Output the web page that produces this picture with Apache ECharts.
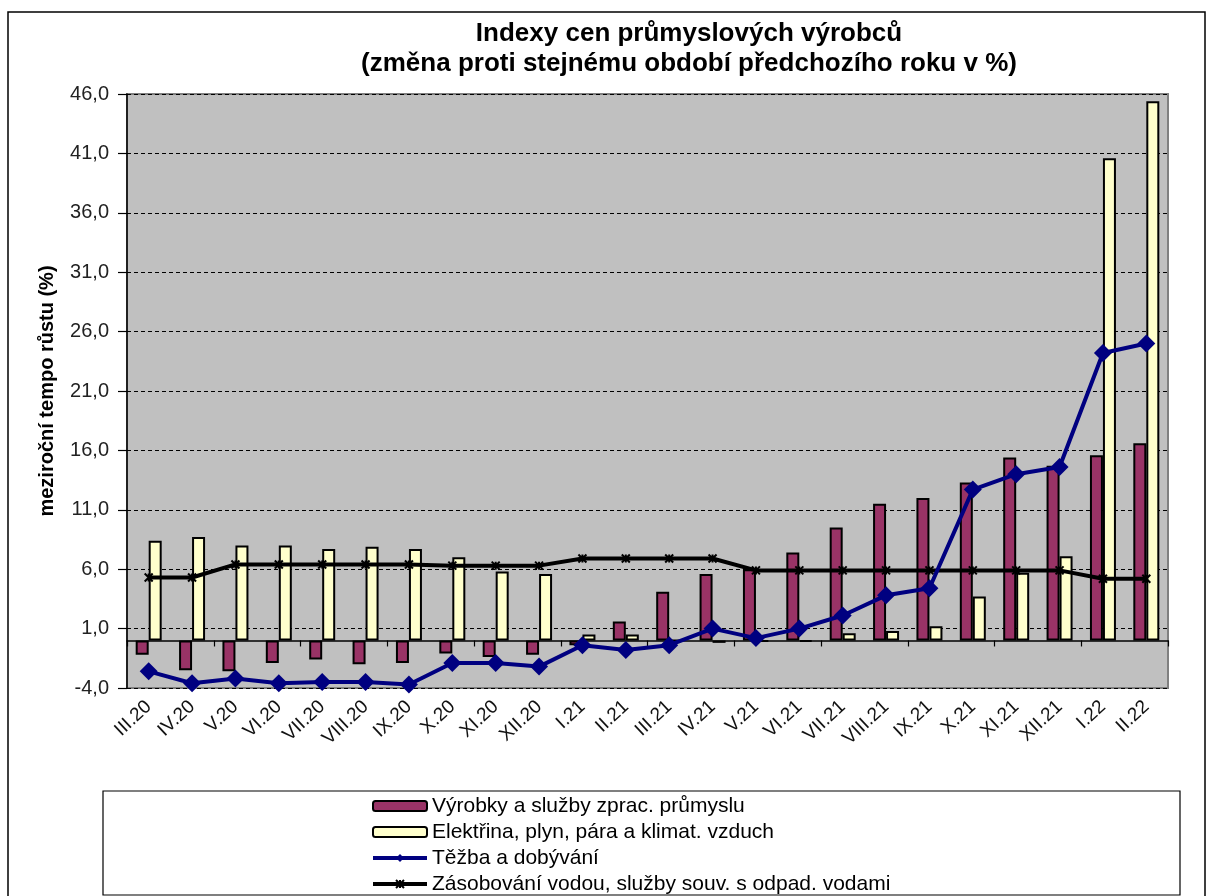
<!DOCTYPE html>
<html>
<head>
<meta charset="utf-8">
<script src="https://cdn.jsdelivr.net/npm/echarts@6/dist/echarts.min.js"></script>
<style>html,body{margin:0;padding:0;background:#fff;}#c{width:1206px;height:896px;}</style>
</head>
<body>
<div id="c"></div>
<script>
const categories = ['III.20','IV.20','V.20','VI.20','VII.20','VIII.20','IX.20','X.20','XI.20','XII.20','I.21','II.21','III.21','IV.21','V.21','VI.21','VII.21','VIII.21','IX.21','X.21','XI.21','XII.21','I.22','II.22'];
const manufacturing = [-1.2,-2.5,-2.6,-1.9,-1.6,-2.0,-1.9,-1.1,-1.4,-1.2,-0.4,1.6,4.1,5.6,6.0,7.4,9.5,11.5,12.0,13.3,15.4,14.7,15.6,16.6];
const energy = [8.4,8.7,8.0,8.0,7.7,7.9,7.7,7.0,5.8,5.6,0.5,0.5,0.0,-0.2,-0.1,-0.1,0.6,0.8,1.2,3.7,5.7,7.1,40.6,45.4];
const mining = [-2.6,-3.6,-3.2,-3.6,-3.5,-3.5,-3.7,-1.9,-1.9,-2.2,-0.4,-0.8,-0.4,1.0,0.2,1.0,2.1,3.8,4.4,12.7,14.0,14.6,24.2,25.0];
const water = [5.3,5.3,6.4,6.4,6.4,6.4,6.4,6.3,6.3,6.3,6.9,6.9,6.9,6.9,5.9,5.9,5.9,5.9,5.9,5.9,5.9,5.9,5.2,5.2];
const seriesNames = ['Výrobky a služby zprac. průmyslu','Elektřina, plyn, pára a klimat. vzduch','Těžba a dobývání','Zásobování vodou, služby souv. s odpad. vodami'];
const titleLines = ['Indexy cen průmyslových výrobců','(změna proti stejnému období předchozího roku v %)'];
const yAxisName = 'meziroční tempo růstu (%)';

const FONT = 'Liberation Sans, Arial, sans-serif';
const chart = echarts.init(document.getElementById('c'), null, {renderer:'canvas'});
chart.setOption({
  animation: false,
  backgroundColor: '#ffffff',
  textStyle: {fontFamily: FONT},
  graphic: [
    {type:'rect', shape:{x:8, y:12, width:1197, height:900}, style:{fill:'none', stroke:'#000', lineWidth:1.5}, silent:true, z:0},
    {type:'rect', shape:{x:103, y:791, width:1077, height:104}, style:{fill:'#fff', stroke:'#000', lineWidth:1.2}, silent:true, z:0},
    {type:'text', x:689, y:34, style:{text:titleLines[0], font:'bold 26px '+FONT, fill:'#000', align:'center', verticalAlign:'middle'}, z:10},
    {type:'text', x:689, y:64, style:{text:titleLines[1], font:'bold 26px '+FONT, fill:'#000', align:'center', verticalAlign:'middle'}, z:10}
  ],
  legend: {
    orient:'vertical', left:371, top:795.5, padding:0, itemWidth:54, itemHeight:10, itemGap:5,
    textStyle:{fontSize:21, color:'#000', fontFamily:FONT},
    data: [
      {name:seriesNames[0]},
      {name:seriesNames[1]},
      {name:seriesNames[2], lineStyle:{width:4}},
      {name:seriesNames[3], lineStyle:{width:4}}
    ], z:20
  },
  grid: {left:127, right:38, top:94, bottom:208, show:true, backgroundColor:'#c0c0c0', borderColor:'#808080', borderWidth:2},
  xAxis: [
    {type:'category', data:categories, position:'bottom',
     axisLine:{show:true, onZero:true, lineStyle:{color:'#000', width:1.5}},
     axisTick:{show:true, length:6, lineStyle:{color:'#000', width:1.2}},
     axisLabel:{show:false}, splitLine:{show:false}},
    {type:'category', data:categories, position:'bottom',
     axisLine:{show:false, onZero:false}, axisTick:{show:false},
     axisLabel:{show:true, rotate:43, fontSize:19, color:'#111', margin:16, interval:0, fontFamily:FONT},
     splitLine:{show:false}}
  ],
  yAxis: {
    type:'value', min:-4, max:46, interval:5,
    name:yAxisName, nameLocation:'middle', nameGap:70,
    nameTextStyle:{fontSize:20, fontWeight:'bold', color:'#000', fontFamily:FONT},
    axisLine:{show:true, lineStyle:{color:'#000', width:1.5}},
    axisTick:{show:true, length:9, lineStyle:{color:'#000', width:1.2}},
    axisLabel:{fontSize:20, color:'#222', margin:18, fontFamily:FONT, formatter:v=>v.toFixed(1).replace('.',',')},
    splitLine:{show:true, lineStyle:{color:'#000', width:1, type:[4,3]}}
  },
  series: [
    {name:seriesNames[0], type:'bar', data:manufacturing, barWidth:13, barGap:'0%',
     itemStyle:{color:'#993366', borderColor:'#000', borderWidth:2}},
    {name:seriesNames[1], type:'bar', data:energy, barWidth:13, barGap:'0%',
     itemStyle:{color:'#ffffcc', borderColor:'#000', borderWidth:2}},
    {name:seriesNames[2], type:'line', data:mining, symbol:'diamond', symbolSize:18,
     lineStyle:{color:'#000080', width:4}, itemStyle:{color:'#000080'}, z:5},
    {name:seriesNames[3], type:'line', data:water, symbol:'path://M0,0L10,10M10,0L0,10M5,0L5,10', symbolSize:8,
     lineStyle:{color:'#000', width:4}, itemStyle:{color:'#000', borderColor:'#000', borderWidth:2}, z:4}
  ]
});
</script>
</body>
</html>
